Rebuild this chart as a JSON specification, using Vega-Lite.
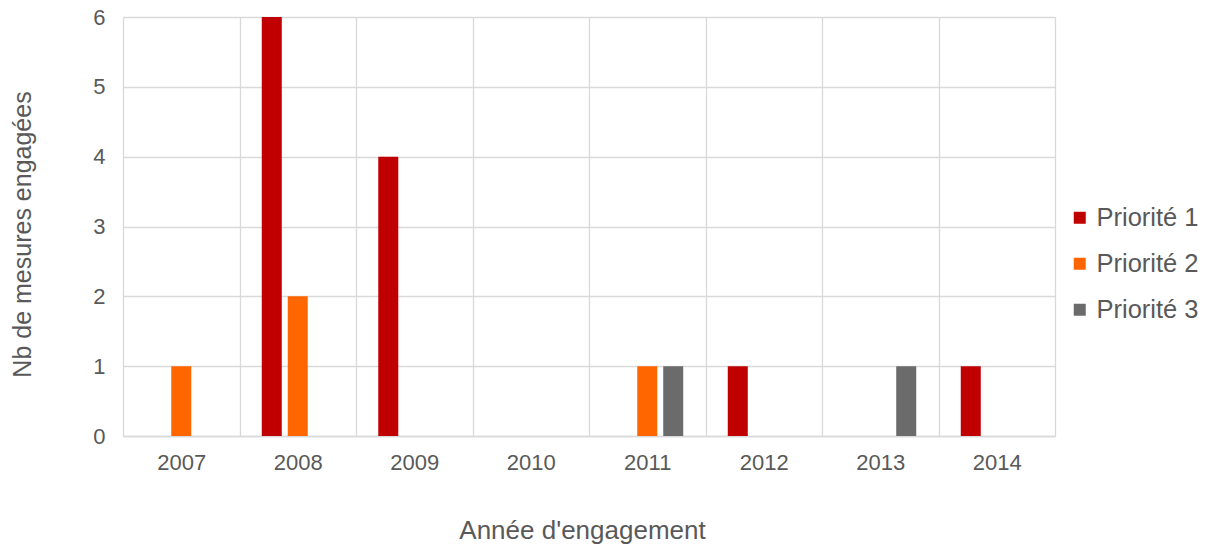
{
  "$schema": "https://vega.github.io/schema/vega-lite/v6.json",
  "width": 932,
  "height": 419,
  "autosize": {"type": "none"},
  "padding": {"left": 123, "top": 17, "right": 150, "bottom": 109},
  "background": "white",
  "config": {
    "view": {"stroke": null},
    "font": "Liberation Sans",
    "axis": {"labelFont": "Liberation Sans", "titleFont": "Liberation Sans", "labelColor": "#595959", "titleColor": "#595959", "titleFontWeight": "normal", "gridColor": "#D9D9D9", "gridWidth": 1.3}
  },
  "data": {
    "values": [
      {"annee": "2007", "priorite": "Priorité 2", "nb": 1},
      {"annee": "2008", "priorite": "Priorité 1", "nb": 6},
      {"annee": "2008", "priorite": "Priorité 2", "nb": 2},
      {"annee": "2009", "priorite": "Priorité 1", "nb": 4},
      {"annee": "2011", "priorite": "Priorité 2", "nb": 1},
      {"annee": "2011", "priorite": "Priorité 3", "nb": 1},
      {"annee": "2012", "priorite": "Priorité 1", "nb": 1},
      {"annee": "2013", "priorite": "Priorité 3", "nb": 1},
      {"annee": "2014", "priorite": "Priorité 1", "nb": 1}
    ]
  },
  "mark": {"type": "bar"},
  "encoding": {
    "x": {
      "field": "annee",
      "type": "nominal",
      "scale": {"domain": ["2007", "2008", "2009", "2010", "2011", "2012", "2013", "2014"], "paddingInner": 0, "paddingOuter": 0},
      "axis": {
        "title": "Année d'engagement",
        "labelAngle": 0,
        "labelFontSize": 22,
        "labelPadding": 16,
        "ticks": false,
        "tickBand": "extent",
        "grid": true,
        "domainColor": "#D9D9D9",
        "domainWidth": 1.3,
        "titleFontSize": 26,
        "titleX": 459,
        "titleY": 94,
        "titleBaseline": "middle"
      }
    },
    "xOffset": {
      "field": "priorite",
      "type": "nominal",
      "scale": {"domain": ["Priorité 1", "Priorité 2", "Priorité 3"], "paddingInner": 0.23, "paddingOuter": 0.857}
    },
    "y": {
      "field": "nb",
      "type": "quantitative",
      "scale": {"domain": [0, 6]},
      "axis": {
        "title": "Nb de mesures engagées",
        "values": [0, 1, 2, 3, 4, 5, 6],
        "labelFontSize": 22,
        "labelPadding": 18,
        "ticks": false,
        "domain": false,
        "titleFontSize": 25,
        "titleX": -101,
        "titleY": 217,
        "titleBaseline": "middle"
      }
    },
    "color": {
      "field": "priorite",
      "type": "nominal",
      "scale": {"domain": ["Priorité 1", "Priorité 2", "Priorité 3"], "range": ["#C00000", "#FF6600", "#6B6B6B"]},
      "legend": {
        "title": null,
        "orient": "none",
        "legendX": 944,
        "legendY": 188,
        "symbolType": "square",
        "symbolSize": 144,
        "symbolStrokeWidth": 0,
        "labelFontSize": 25.5,
        "labelColor": "#595959",
        "labelFont": "Liberation Sans",
        "rowPadding": 19,
        "labelOffset": 4
      }
    }
  }
}
